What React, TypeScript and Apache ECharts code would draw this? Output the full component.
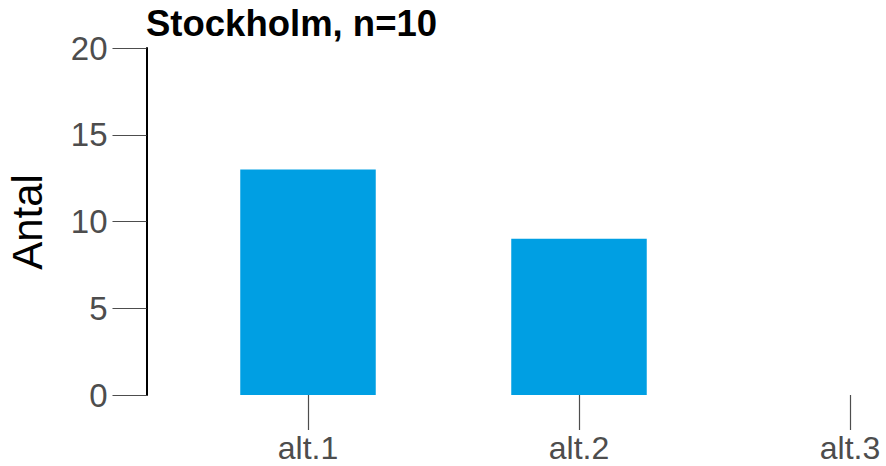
import React, { useEffect, useRef } from "react";
import * as echarts from "echarts";

const categories = ["alt.1", "alt.2", "alt.3"];
const counts = [13, 9, 0];
const yTicks = [0, 5, 10, 15, 20];
const titleText = "Stockholm, n=10";
const yName = "Antal";

export default function App() {
  const ref = useRef<HTMLDivElement>(null);
  useEffect(() => {
    if (!ref.current) return;
    const chart = echarts.init(ref.current, null, { renderer: "svg" });
    chart.setOption({
      animation: false,
      backgroundColor: "#ffffff",
      title: {
        text: titleText,
        left: 141,
        top: 0,
        textStyle: { fontFamily: "Liberation Sans, Arial", fontWeight: "bold", fontSize: 36.5, color: "#000" },
      },
      grid: { left: 172.5, top: 48, width: 813, height: 347, containLabel: false, outerBoundsMode: "none" },
      xAxis: {
        type: "category",
        data: categories,
        axisLine: { show: false },
        axisTick: { show: true, alignWithLabel: true, length: 35, lineStyle: { color: "#4d4d4d", width: 1.2 } },
        axisLabel: { margin: 37, fontFamily: "Liberation Sans, Arial", fontSize: 32, color: "#4d4d4d" },
        splitLine: { show: false },
      },
      yAxis: {
        type: "value",
        min: 0,
        max: 20,
        interval: 5,
        offset: 26,
        axisLine: { show: true, onZero: false, lineStyle: { color: "#000", width: 2 } },
        axisTick: { show: true, length: 34, lineStyle: { color: "#4d4d4d", width: 1.2 } },
        axisLabel: {
          margin: 39,
          fontFamily: "Liberation Sans, Arial",
          fontSize: 33,
          color: "#4d4d4d",
          formatter: (v: number) => (yTicks.includes(v) ? String(v) : ""),
        },
        splitLine: { show: false },
      },
      graphic: [
        {
          type: "text",
          x: 27,
          y: 222,
          rotation: Math.PI / 2,
          style: {
            text: yName,
            fontFamily: "Liberation Sans, Arial",
            fontSize: 42,
            fill: "#000",
            align: "center",
            verticalAlign: "middle",
          },
        },
      ],
      series: [
        {
          type: "bar",
          data: counts,
          barWidth: "50%",
          itemStyle: { color: "#009FE3" },
        },
      ],
    });
    return () => chart.dispose();
  }, []);
  return <div ref={ref} style={{ width: 886, height: 466, position: "absolute", left: 0, top: 0 }} />;
}
